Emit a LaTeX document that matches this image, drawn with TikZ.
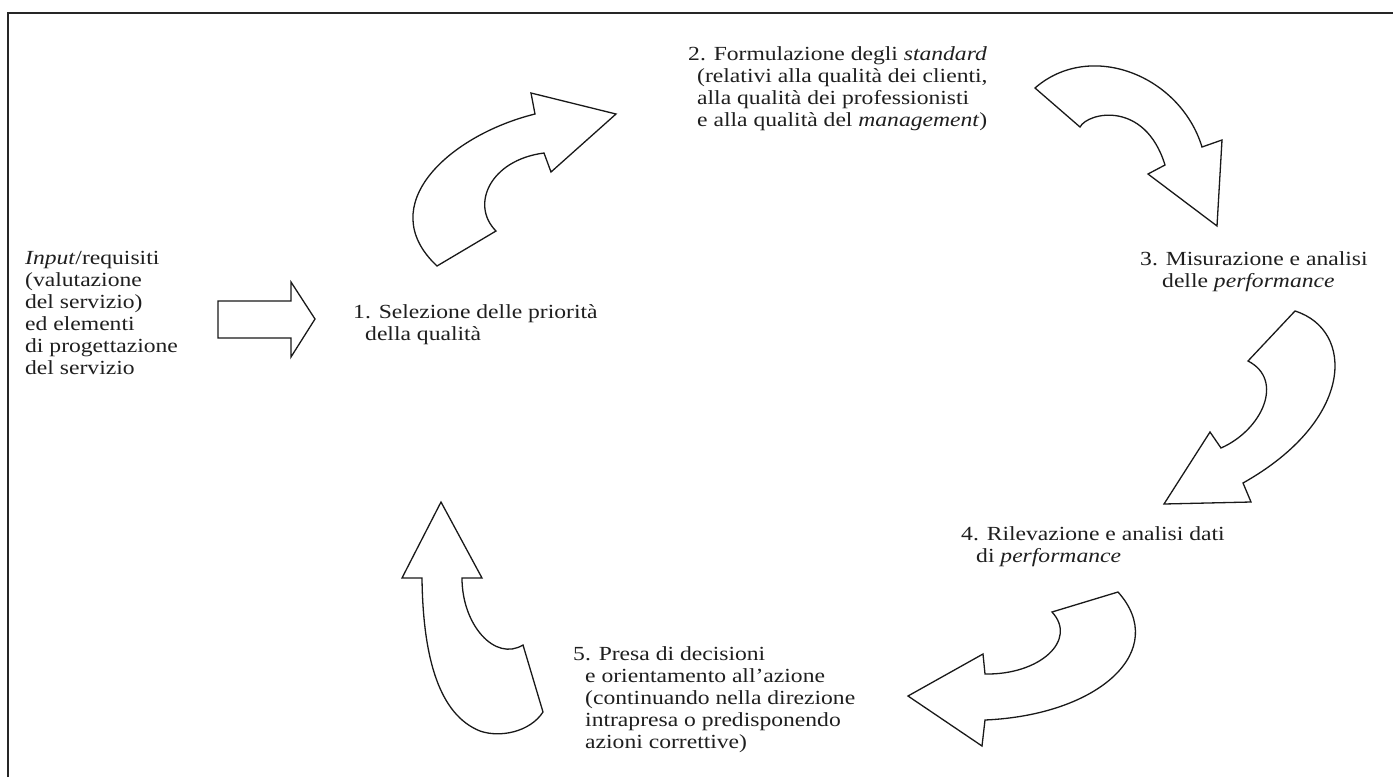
\documentclass[tikz,border=0pt]{standalone}
\usepackage{fontspec}
\setmainfont{Liberation Serif}[FakeStretch=1.18]
\begin{document}
\begin{tikzpicture}[x=1pt,y=-1pt,
  blockarrow/.style={draw=black!90, line width=1.3pt, line join=miter, fill=white},
  lbl/.style={anchor=base west, inner sep=0pt, text=black!88,
    font=\fontsize{20}{22}\selectfont},
  frameline/.style={draw=black!85, line width=1.6pt}]
\useasboundingbox (0,0) rectangle (1393,777);
\fill[white] (0,0) rectangle (1393,777);

% frame
\draw[frameline] (8,777) -- (8,13) -- (1393,13);

% input arrow
\draw[blockarrow] (218,301) -- (291,301) -- (291,282) -- (315,319)
  -- (291,357) -- (291,338) -- (218,338) -- cycle;

% arrow 1 -> 2
\draw[blockarrow] (437,266) -- (496,231)
  .. controls (470,205) and (490,160) .. (544,153)
  -- (551,172) -- (616,114) -- (531,93) -- (535,114)
  .. controls (450,135) and (372,205) .. (437,266)
  -- cycle;

% arrow 2 -> 3
\draw[blockarrow] (1035,88) -- (1080,127)
  .. controls (1088,112) and (1145,100) .. (1165,165)
  -- (1148,174) -- (1217,226) -- (1222,140) -- (1202,147)
  .. controls (1180,75) and (1090,40) .. (1035,88)
  -- cycle;

% arrow 3 -> 4
\draw[blockarrow] (1295,311)
  .. controls (1355,330) and (1355,420) .. (1243,483)
  -- (1251,502) -- (1164,504) -- (1210,432) -- (1221,448)
  .. controls (1262,430) and (1285,380) .. (1248,361)
  -- cycle;

% arrow 4 -> 5
\draw[blockarrow] (1118,592) -- (1052,612)
  .. controls (1078,640) and (1040,675) .. (985,674)
  -- (983,654) -- (908,696) -- (982,746) -- (985,720)
  .. controls (1100,715) and (1170,650) .. (1118,592)
  -- cycle;

% arrow 5 -> 1
\draw[blockarrow] (441,502) -- (482,578) -- (462,578)
  .. controls (462,625) and (495,662) .. (523,645)
  -- (543,712)
  .. controls (530,732) and (500,738) .. (480,731)
  .. controls (440,715) and (423,660) .. (422,578)
  -- (402,578) -- cycle;

% input text
\node[lbl] (in1) at (25,264) {\textit{Input}/requisiti};
\node[lbl] (in2) at (25,286) {(valutazione};
\node[lbl] (in3) at (25,308) {del servizio)};
\node[lbl] (in4) at (25,330) {ed elementi};
\node[lbl] (in5) at (25,352) {di progettazione};
\node[lbl] (in6) at (25,374) {del servizio};

% step 1
\node[lbl] (s1a) at (353,318) {1. Selezione delle priorità};
\node[lbl] (s1b) at (365,340) {della qualità};

% step 2
\node[lbl] (s2a) at (688,60) {2. Formulazione degli \textit{standard}};
\node[lbl] (s2b) at (697,82) {(relativi alla qualità dei clienti,};
\node[lbl] (s2c) at (697,104) {alla qualità dei professionisti};
\node[lbl] (s2d) at (697,126) {e alla qualità del \textit{management})};

% step 3
\node[lbl] (s3a) at (1140,265) {3. Misurazione e analisi};
\node[lbl] (s3b) at (1162,287) {delle \textit{performance}};

% step 4
\node[lbl] (s4a) at (961,540) {4. Rilevazione e analisi dati};
\node[lbl] (s4b) at (976,562) {di \textit{performance}};

% step 5
\node[lbl] (s5a) at (573,660) {5. Presa di decisioni};
\node[lbl] (s5b) at (585,682) {e orientamento all'azione};
\node[lbl] (s5c) at (585,704) {(continuando nella direzione};
\node[lbl] (s5d) at (585,726) {intrapresa o predisponendo};
\node[lbl] (s5e) at (585,748) {azioni correttive)};
\end{tikzpicture}
\end{document}
